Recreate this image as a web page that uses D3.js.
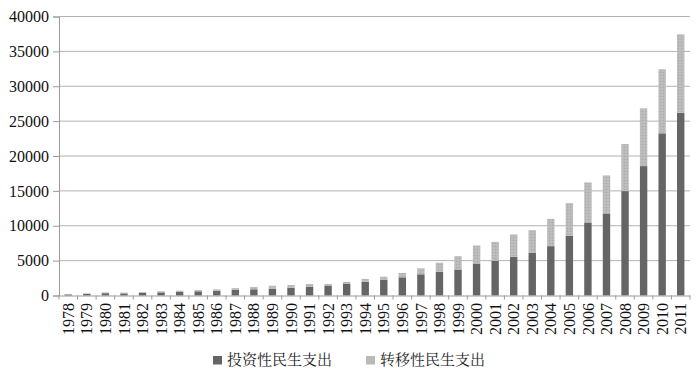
<!DOCTYPE html>
<html>
<head>
<meta charset="utf-8">
<script src="https://cdn.jsdelivr.net/npm/d3@7"></script>
<style>
  body { margin: 0; background: #fff; }
  svg { display: block; }
</style>
</head>
<body>
<svg width="700" height="374"></svg>
<script>
// Years on the x axis
const years = ['1978','1979','1980','1981','1982','1983','1984','1985','1986','1987',
    '1988','1989','1990','1991','1992','1993','1994','1995','1996','1997',
    '1998','1999','2000','2001','2002','2003','2004','2005','2006','2007',
    '2008','2009','2010','2011'];

// 投资性民生支出 (bottom, dark)
const investment = [150, 230, 330, 300, 370, 450, 520, 600, 640, 790,
    890, 980, 1120, 1220, 1360, 1650, 1940, 2270, 2610, 3040,
    3415, 3730, 4590, 4970, 5540, 6110, 7075, 8550, 10470, 11770,
    14970, 18550, 23250, 26200];

// 转移性民生支出 (top, light)
const transfer = [40, 90, 120, 120, 130, 150, 170, 200, 240, 260,
    330, 420, 380, 430, 290, 290, 430, 430, 620, 860,
    1290, 1910, 2585, 2720, 3210, 3260, 3915, 4690, 5740, 5450,
    6740, 8280, 9180, 11250];

const yTicks = [0, 5000, 10000, 15000, 20000, 25000, 30000, 35000, 40000];
const seriesNames = ['投资性民生支出', '转移性民生支出'];

const svg = d3.select('svg');
const plotLeft = 59, plotRight = 690, plotTop = 16.5, plotBottom = 295.5;
const serif = '"Liberation Serif", "Times New Roman", "DejaVu Serif", serif';

// dotted texture for the light series
const defs = svg.append('defs');
const pat = defs.append('pattern')
    .attr('id', 'dots')
    .attr('width', 3).attr('height', 3)
    .attr('patternUnits', 'userSpaceOnUse');
pat.append('rect').attr('width', 3).attr('height', 3).attr('fill', '#bababa');
pat.append('rect').attr('x', 0).attr('y', 0).attr('width', 1).attr('height', 1).attr('fill', '#a9a9a9');
pat.append('rect').attr('x', 1.5).attr('y', 1.5).attr('width', 1).attr('height', 1).attr('fill', '#c6c6c6');

const x = d3.scaleBand().domain(years).range([plotLeft, plotRight]).paddingInner(0).paddingOuter(0);
const y = d3.scaleLinear().domain([0, 40000]).range([plotBottom, plotTop]);

// gridlines
svg.append('g')
    .selectAll('line')
    .data(yTicks.slice(1))
    .enter()
    .append('line')
    .attr('x1', plotLeft).attr('x2', plotRight)
    .attr('y1', d => y(d)).attr('y2', d => y(d))
    .style('stroke', '#b3b3b3')
    .style('stroke-width', 1);

// y axis
const yAxis = svg.append('g')
    .attr('transform', `translate(${plotLeft},0)`)
    .attr('font-family', null)
    .call(d3.axisLeft(y).tickValues(yTicks).tickSize(6).tickPadding(4).tickFormat(d3.format('d')));
yAxis.attr('font-family', serif);
yAxis.select('.domain').style('stroke', '#9a9a9a');
yAxis.selectAll('.tick line').style('stroke', '#9a9a9a');
yAxis.selectAll('text')
    .style('font-family', serif)
    .style('font-size', '16px')
    .style('fill', '#111');

// stacked bars
const data = years.map((yr, i) => ({ year: yr, a: investment[i], b: transfer[i] }));
const stack = d3.stack().keys(['a', 'b'])(data);
const fills = ['#656565', 'url(#dots)'];
const barW = 7.4;

svg.append('g')
    .selectAll('g')
    .data(stack)
    .enter()
    .append('g')
    .attr('fill', (d, i) => fills[i])
    .selectAll('rect')
    .data(d => d)
    .enter()
    .append('rect')
    .attr('x', d => x(d.data.year) + x.bandwidth() / 2 - barW / 2)
    .attr('width', barW)
    .attr('y', d => y(d[1]))
    .attr('height', d => y(d[0]) - y(d[1]));

// x axis
const xAxis = svg.append('g')
    .attr('transform', `translate(0,${plotBottom})`)
    .call(d3.axisBottom(x).tickSize(0).tickPadding(0));
xAxis.attr('font-family', serif);
xAxis.select('.domain').style('stroke', '#9a9a9a');
xAxis.selectAll('.tick line').remove();
// tick marks at band boundaries
xAxis.selectAll('.bound')
    .data(years.concat(['end']))
    .enter()
    .append('line')
    .attr('x1', (d, i) => plotLeft + i * x.step())
    .attr('x2', (d, i) => plotLeft + i * x.step())
    .attr('y1', 0).attr('y2', 4)
    .style('stroke', '#9a9a9a');
xAxis.selectAll('.tick text')
    .attr('transform', 'rotate(-90)')
    .attr('x', -7.5)
    .attr('y', 0)
    .attr('dy', '0.35em')
    .style('text-anchor', 'end')
    .style('font-family', serif)
    .style('font-size', '16px')
    .style('fill', '#111');

// legend
const legend = svg.append('g');
const legendX = [213, 366];
seriesNames.forEach((name, i) => {
    legend.append('rect')
        .attr('x', legendX[i]).attr('y', 356)
        .attr('width', 9).attr('height', 8.5)
        .attr('fill', i === 0 ? '#656565' : '#bababa');
    legend.append('text')
        .attr('x', legendX[i] + 14).attr('y', 360)
        .attr('dy', '0.36em')
        .style('font-family', '"Noto Serif CJK SC", "Noto Sans CJK SC", serif')
        .style('font-size', '15px')
        .style('fill', '#222')
        .text(name);
});
</script>
</body>
</html>
